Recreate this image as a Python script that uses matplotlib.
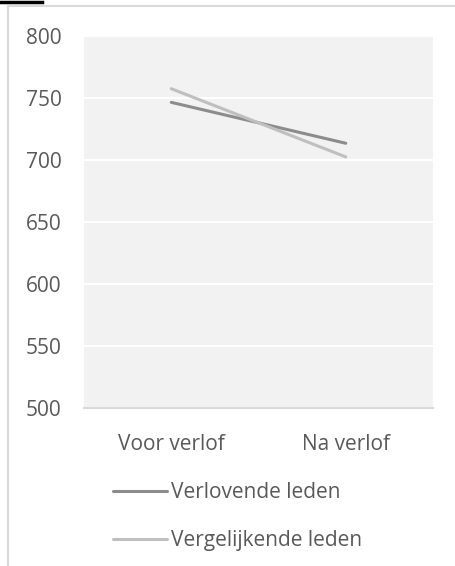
import matplotlib
matplotlib.use("Agg")
from matplotlib import pyplot as plt
from matplotlib.lines import Line2D

plt.rcParams['font.family'] = ['Open Sans', 'DejaVu Sans']

categories = ["Voor verlof", "Na verlof"]
verlovende = [746.5, 713.5]
vergelijkende = [757.5, 702.5]
series_names = ["Verlovende leden", "Vergelijkende leden"]
yticks = [500, 550, 600, 650, 700, 750, 800]

W, H = 456, 566
fig = plt.figure(figsize=(W / 100, H / 100), dpi=100)

# outer chart frame and the small black mark at top-left
fig.add_artist(Line2D([8 / W, 1], [1 - 5.5 / H, 1 - 5.5 / H], color="#d9d9d9", lw=1.5))
fig.add_artist(Line2D([8.5 / W, 8.5 / W], [0, 1 - 5.5 / H], color="#d9d9d9", lw=1.5))
fig.add_artist(Line2D([0, 42 / W], [1 - 1.5 / H, 1 - 1.5 / H], color="black", lw=2.5))

ax = fig.add_axes([84 / W, (H - 408) / H, 349 / W, 372 / H])
ax.set_facecolor("#f2f2f2")
x = range(len(categories))
l1, = ax.plot(x, verlovende, color="#8c8c8c", lw=2.2, solid_capstyle="round")
l2, = ax.plot(x, vergelijkende, color="#bfbfbf", lw=2.2, solid_capstyle="round")

ax.set_xlim(-0.5, 1.5)
ax.set_ylim(500, 800)
ax.set_yticks(yticks)
ax.set_xticks(list(x))
ax.set_xticklabels(categories)
ax.grid(axis="y", color="white", lw=1.5)
ax.set_axisbelow(True)
for s in ["top", "right", "left"]:
    ax.spines[s].set_visible(False)
ax.spines["bottom"].set_color("#d9d9d9")
ax.spines["bottom"].set_linewidth(1.5)
ax.tick_params(axis="both", length=0, labelsize=15, labelcolor="#595959")
ax.tick_params(axis="y", pad=16)
ax.tick_params(axis="x", pad=18.5)

leg = fig.legend([l1, l2], series_names, loc="upper left",
                 bbox_to_anchor=(113 / W, 1 - 482 / H), frameon=False,
                 fontsize=15, handlelength=2.6, handletextpad=0.2,
                 labelspacing=1.3, borderpad=0, borderaxespad=0)
for t in leg.get_texts():
    t.set_color("#595959")

fig.savefig("out.png", dpi=100, facecolor="white")
